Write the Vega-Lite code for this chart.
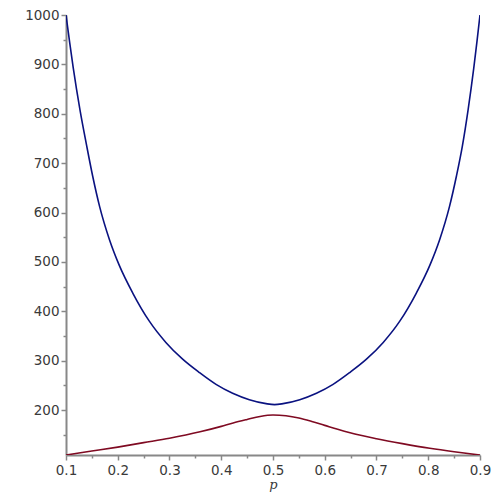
{
  "$schema": "https://vega.github.io/schema/vega-lite/v6.json",
  "width": 414,
  "height": 440,
  "autosize": {"type": "none"},
  "padding": {"left": 66, "top": 15, "right": 20, "bottom": 45},
  "background": "white",
  "config": {
    "view": {"stroke": null},
    "axis": {
      "labelFont": "DejaVu Sans",
      "labelFontSize": 13.5,
      "labelColor": "#3a3a3a",
      "labelFlush": false,
      "domainColor": "#888888",
      "domainWidth": 2,
      "tickColor": "#888888",
      "tickWidth": 1.5,
      "grid": false
    }
  },
  "datasets": {
    "blue": [
      {"p": 0.100, "v": 1000},
      {"p": 0.107, "v": 945},
      {"p": 0.114, "v": 893},
      {"p": 0.127, "v": 808},
      {"p": 0.140, "v": 735},
      {"p": 0.1515, "v": 674},
      {"p": 0.165, "v": 612},
      {"p": 0.184, "v": 545},
      {"p": 0.203, "v": 493},
      {"p": 0.229, "v": 437},
      {"p": 0.261, "v": 380},
      {"p": 0.293, "v": 337},
      {"p": 0.3254, "v": 303},
      {"p": 0.3577, "v": 276},
      {"p": 0.3899, "v": 252},
      {"p": 0.422, "v": 234},
      {"p": 0.4543, "v": 221},
      {"p": 0.4865, "v": 213},
      {"p": 0.503, "v": 211},
      {"p": 0.5195, "v": 213},
      {"p": 0.5517, "v": 221},
      {"p": 0.584, "v": 234},
      {"p": 0.6161, "v": 252},
      {"p": 0.6483, "v": 276},
      {"p": 0.6806, "v": 303},
      {"p": 0.713, "v": 337},
      {"p": 0.745, "v": 380},
      {"p": 0.777, "v": 437},
      {"p": 0.803, "v": 493},
      {"p": 0.822, "v": 545},
      {"p": 0.841, "v": 612},
      {"p": 0.8545, "v": 674},
      {"p": 0.866, "v": 735},
      {"p": 0.877, "v": 808},
      {"p": 0.888, "v": 893},
      {"p": 0.894, "v": 945},
      {"p": 0.900, "v": 1000}
    ],
    "red": [
      {"p": 0.100, "v": 109},
      {"p": 0.150, "v": 117},
      {"p": 0.200, "v": 125},
      {"p": 0.250, "v": 134},
      {"p": 0.300, "v": 143},
      {"p": 0.359, "v": 156},
      {"p": 0.400, "v": 167},
      {"p": 0.423, "v": 174},
      {"p": 0.450, "v": 181},
      {"p": 0.475, "v": 187},
      {"p": 0.500, "v": 190},
      {"p": 0.525, "v": 188.5},
      {"p": 0.550, "v": 184},
      {"p": 0.575, "v": 177},
      {"p": 0.600, "v": 169},
      {"p": 0.625, "v": 161},
      {"p": 0.649, "v": 154},
      {"p": 0.700, "v": 142},
      {"p": 0.750, "v": 132},
      {"p": 0.803, "v": 122.5},
      {"p": 0.850, "v": 115.5},
      {"p": 0.900, "v": 109}
    ]
  },
  "layer": [
    {
      "data": {"name": "blue"},
      "mark": {"type": "line", "color": "#0a1280", "strokeWidth": 1.6, "interpolate": "monotone", "clip": true},
      "encoding": {
        "x": {
          "field": "p", "type": "quantitative",
          "scale": {"domain": [0.1, 0.9], "nice": false, "zero": false},
          "axis": {
            "values": [0.1, 0.2, 0.3, 0.4, 0.5, 0.6, 0.7, 0.8, 0.9],
            "format": ".1f",
            "title": "p",
            "titleFont": "DejaVu Serif",
            "titleFontStyle": "italic",
            "titleFontWeight": "normal",
            "titleFontSize": 13,
            "titleColor": "#3a3a3a",
            "titlePadding": 2,
            "tickSize": 5,
            "labelPadding": 3
          }
        },
        "y": {
          "field": "v", "type": "quantitative",
          "scale": {"domain": [109, 1000], "nice": false, "zero": false},
          "axis": {
            "values": [200, 300, 400, 500, 600, 700, 800, 900, 1000],
            "format": "d",
            "title": null,
            "tickSize": 5,
            "labelPadding": 2
          }
        }
      }
    },
    {
      "data": {"name": "red"},
      "mark": {"type": "line", "color": "#7f0a22", "strokeWidth": 1.6, "interpolate": "monotone", "clip": true},
      "encoding": {
        "x": {
          "field": "p", "type": "quantitative",
          "axis": {
            "orient": "bottom",
            "values": [0.15, 0.25, 0.35, 0.45, 0.55, 0.65, 0.75, 0.85],
            "labels": false,
            "domain": false,
            "tickSize": 3,
            "title": null
          }
        },
        "y": {
          "field": "v", "type": "quantitative",
          "axis": {
            "orient": "left",
            "values": [150, 250, 350, 450, 550, 650, 750, 850, 950],
            "labels": false,
            "domain": false,
            "tickSize": 3,
            "title": null
          }
        }
      }
    }
  ],
  "resolve": {"axis": {"x": "independent", "y": "independent"}}
}
